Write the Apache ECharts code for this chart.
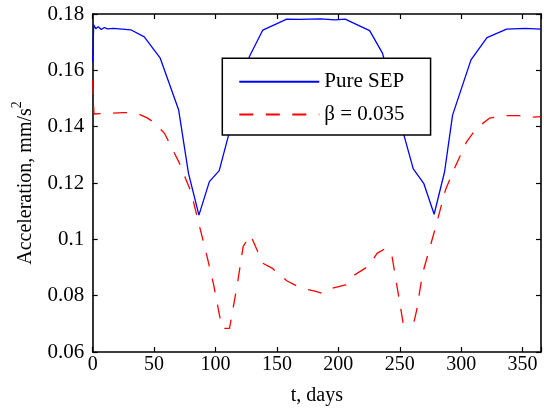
<!DOCTYPE html>
<html>
<head>
<meta charset="utf-8">
<script src="https://cdn.jsdelivr.net/npm/echarts@6/dist/echarts.min.js"></script>
<style>html,body{margin:0;padding:0;background:#fff}#c{width:544px;height:411px}</style>
</head>
<body>
<div id="c"></div>
<script>
// Pure SEP (blue, solid): [t (days), acceleration (mm/s^2)]
const pureT = [0, 0.8, 2.5, 4.5, 7, 9.5, 12, 17, 31, 42, 55, 70, 78, 86.5, 95, 103, 111, 127.5, 138.5, 158, 168, 185.5, 197.5, 205.5, 225.5, 236, 253, 261, 269.5, 278, 286.5, 293, 308, 321, 337, 352, 365];
const pureA = [0.163, 0.1762, 0.1748, 0.1755, 0.1745, 0.1752, 0.1747, 0.1749, 0.1744, 0.1719, 0.1643, 0.1459, 0.1234, 0.1086, 0.1205, 0.1244, 0.1376, 0.1648, 0.1743, 0.1782, 0.1781, 0.1783, 0.1779, 0.1782, 0.1741, 0.1660, 0.1376, 0.1250, 0.1199, 0.1089, 0.1240, 0.1441, 0.1637, 0.1716, 0.1746, 0.1749, 0.1746];
// beta = 0.035 (red, dashed)
const betaT = [0, 1, 10, 25, 33, 38, 44, 50, 58.5, 70, 80, 86, 92.5, 98.5, 105.3, 111.4, 117.9, 122.5, 128.5, 138.5, 146, 158.3, 169, 181, 187, 193, 206, 213, 225, 231.5, 238.5, 243.5, 248.5, 252.8, 259.8, 261.5, 263.8, 268.6, 279.3, 287.2, 293.9, 304.5, 312.4, 323, 334, 347, 355, 365];
const betaA = [0.1565, 0.1445, 0.1447, 0.1450, 0.1449, 0.1444, 0.1432, 0.1415, 0.1376, 0.1276, 0.1169, 0.1063, 0.0950, 0.0838, 0.0684, 0.0684, 0.0844, 0.0975, 0.1015, 0.0915, 0.0898, 0.0852, 0.0828, 0.0816, 0.0808, 0.0824, 0.0838, 0.0873, 0.0906, 0.0950, 0.0968, 0.0945, 0.0814, 0.0701, 0.0701, 0.0706, 0.0749, 0.0879, 0.1045, 0.1175, 0.1246, 0.1347, 0.1394, 0.1430, 0.1439, 0.1439, 0.1433, 0.1436];
const seriesNames = ['Pure SEP', 'β = 0.035'];
const xTicks = [0, 50, 100, 150, 200, 250, 300, 350];
const yTicks = [0.06, 0.08, 0.1, 0.12, 0.14, 0.16, 0.18];

const FONT = '"Liberation Serif", "Times New Roman", serif';
const zip = (a, b) => a.map((v, i) => [v, b[i]]);
const axisLine = {show: true, onZero: false, lineStyle: {color: '#000', width: 1.6}};
const tick = {show: true, inside: true, length: 5, lineStyle: {color: '#000', width: 1.2}};

const chart = echarts.init(document.getElementById('c'), null, {renderer: 'canvas'});
chart.setOption({
  animation: false,
  backgroundColor: '#fff',
  grid: {left: 92.7, top: 14, width: 456.3, height: 338, containLabel: false},
  legend: {
    orient: 'vertical', left: 222.3, top: 58.3,
    data: seriesNames,
    backgroundColor: '#fff', borderColor: '#000', borderWidth: 1.5, borderRadius: 0,
    padding: [13, 26, 10, 16], itemGap: 11.6, itemWidth: 80, itemHeight: 20,
    itemStyle: {opacity: 0},
    textStyle: {fontFamily: FONT, fontSize: 21, color: '#000'}
  },
  xAxis: [{
    type: 'value', min: 0, max: 365, interval: 50,
    name: 't, days', nameLocation: 'middle', nameGap: 34,
    nameTextStyle: {fontFamily: FONT, fontSize: 20, color: '#000'},
    axisLine, axisTick: tick, splitLine: {show: false},
    axisLabel: {fontFamily: FONT, fontSize: 20, color: '#000', margin: 3,
      formatter: v => xTicks.includes(v) ? String(v) : ''}
  }, {
    type: 'value', position: 'top', min: 0, max: 365, interval: 50,
    axisLine, axisTick: tick, splitLine: {show: false}, axisLabel: {show: false}
  }],
  yAxis: [{
    type: 'value', min: 0.06, max: 0.18, interval: 0.02,
    name: '{a|Acceleration, mm/s}{b|2}', nameLocation: 'middle', nameGap: 57,
    nameTextStyle: {fontFamily: FONT, fontSize: 20, color: '#000',
      rich: {a: {fontFamily: FONT, fontSize: 20, color: '#000', lineHeight: 25, verticalAlign: 'bottom'},
             b: {fontFamily: FONT, fontSize: 14, color: '#000', lineHeight: 14, verticalAlign: 'top'}}},
    axisLine, axisTick: tick, splitLine: {show: false},
    axisLabel: {fontFamily: FONT, fontSize: 21, color: '#000', margin: 8.5,
      formatter: v => { const s = String(+v.toFixed(2)); return yTicks.some(t => Math.abs(t - v) < 1e-9) ? s : ''; }}
  }, {
    type: 'value', position: 'right', min: 0.06, max: 0.18, interval: 0.02,
    axisLine, axisTick: tick, splitLine: {show: false}, axisLabel: {show: false}
  }],
  series: [{
    name: seriesNames[0], type: 'line', data: zip(pureT, pureA),
    symbol: 'none', showSymbol: false, smooth: false,
    lineStyle: {color: '#0000ff', width: 1.3, type: 'solid'},
    itemStyle: {color: '#0000ff'}
  }, {
    name: seriesNames[1], type: 'line', data: zip(betaT, betaA),
    symbol: 'none', showSymbol: false, smooth: false,
    lineStyle: {color: '#ff0000', width: 1.3, type: [14, 12.5]},
    itemStyle: {color: '#ff0000'}
  }]
});
</script>
</body>
</html>
